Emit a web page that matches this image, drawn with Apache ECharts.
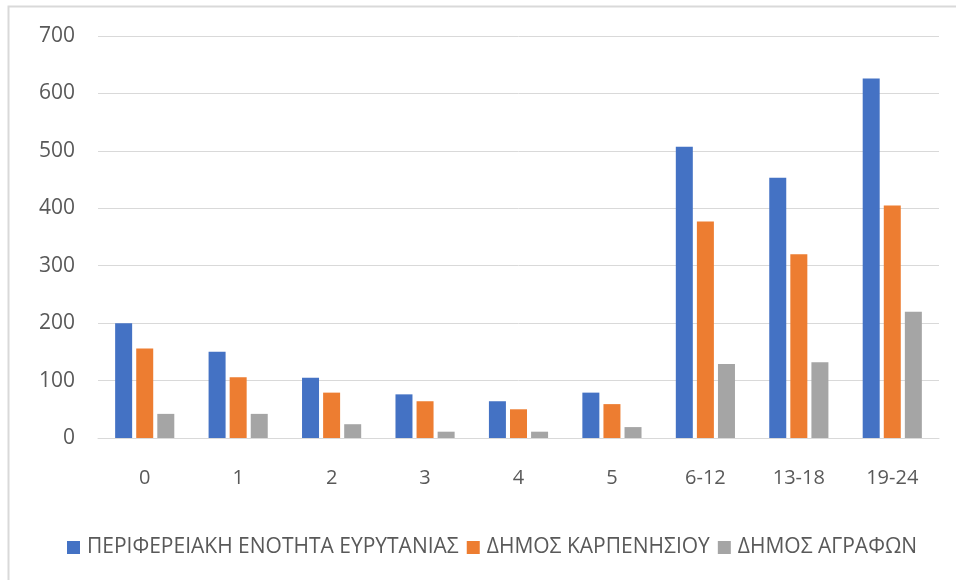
<!DOCTYPE html>
<html>
<head>
<meta charset="utf-8">
<script src="https://cdn.jsdelivr.net/npm/echarts@6/dist/echarts.min.js"></script>
<style>html,body{margin:0;padding:0;background:#fff;}#c{width:956px;height:580px;}</style>
</head>
<body>
<div id="c"></div>
<script>
var categories = ['0','1','2','3','4','5','6-12','13-18','19-24'];
var seriesNames = ['ΠΕΡΙΦΕΡΕΙΑΚΗ ΕΝΟΤΗΤΑ ΕΥΡΥΤΑΝΙΑΣ','ΔΗΜΟΣ ΚΑΡΠΕΝΗΣΙΟΥ','ΔΗΜΟΣ ΑΓΡΑΦΩΝ'];
var perifereia = [200,150,105,76,64,79,507,453,626];
var karpenisi = [156,106,79,64,50,59,377,320,405];
var agrafa = [42,42,24,11,11,19,129,132,220];
var colors = ['#4472C4','#ED7D31','#A5A5A5'];
var font = 'Open Sans';
var chart = echarts.init(document.getElementById('c'));
function bar(name, data, color){
  return {name:name,type:'bar',data:data,barWidth:17,barGap:'24%',itemStyle:{color:color}};
}
chart.setOption({
  animation:false,
  graphic:[{type:'rect',shape:{x:8.5,y:6.5,width:980,height:620},style:{fill:'none',stroke:'#d9d9d9',lineWidth:2},silent:true}],
  grid:{left:98,right:17,top:36,bottom:142,containLabel:false},
  legend:{top:532,left:62,itemWidth:13,itemHeight:13,itemGap:8,icon:'rect',
    textStyle:{fontFamily:font,fontSize:21,color:'#595959',padding:[0,0,0,2]},data:seriesNames},
  xAxis:{type:'category',data:categories,axisTick:{show:false},
    axisLine:{lineStyle:{color:'#d9d9d9',width:1}},
    axisLabel:{margin:30,fontFamily:font,fontSize:20,color:'#595959'}},
  yAxis:{type:'value',min:0,max:700,interval:100,
    axisLine:{show:false},axisTick:{show:false},
    splitLine:{lineStyle:{color:'#d9d9d9',width:1}},
    axisLabel:{margin:23,fontFamily:font,fontSize:21,color:'#595959'}},
  series:[bar(seriesNames[0],perifereia,colors[0]),bar(seriesNames[1],karpenisi,colors[1]),bar(seriesNames[2],agrafa,colors[2])]
});
</script>
</body>
</html>
